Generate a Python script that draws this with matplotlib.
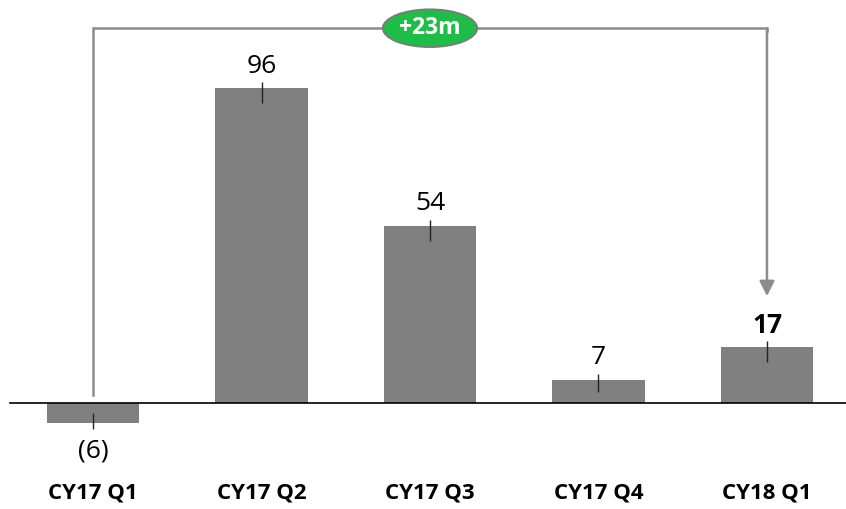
import matplotlib.pyplot as plt
from matplotlib.patches import Ellipse

plt.rcParams['font.family'] = ['Open Sans', 'DejaVu Sans']

quarters = ['CY17 Q1', 'CY17 Q2', 'CY17 Q3', 'CY17 Q4', 'CY18 Q1']
values = [-6, 96, 54, 7, 17]
value_labels = ['(6)', '96', '54', '7', '17']

bar_color = '#808080'
line_color = '#8c8c8c'

fig = plt.figure(figsize=(8.46, 5.09), dpi=100)
ax = fig.add_axes([0, 0, 1, 1])
x = list(range(len(values)))

ax.bar(x, values, width=0.55, color=bar_color, zorder=2)
ax.axhline(0, xmin=10 / 846, xmax=1, color='black', lw=1.2, zorder=3)

# small marker line at the end of each bar, plus the value label
for i, v in enumerate(values):
    sign = 1 if v >= 0 else -1
    inside = min(4.5, 0.5 * abs(v))
    ax.vlines(i, v - sign * inside, v + sign * 1.8, color='#222222', lw=1.0, zorder=3)
    bold = i == len(values) - 1
    ax.annotate(value_labels[i], (i, v), xytext=(0, 16 if v >= 0 else -20),
                textcoords='offset points', ha='center', va='center', fontsize=19,
                fontweight='bold' if bold else 'normal', color='black')
    ax.text(i, -27.4, quarters[i], ha='center', va='center', fontsize=16,
            fontweight='bold', color='black')

# bracket from first to last quarter
top = 114.3
ax.plot([0, 0, 4, 4], [2.4, top, top, top - 1], color=line_color, lw=1.8, zorder=1,
        solid_joinstyle='miter')
ax.annotate('', xy=(4, 32.6), xytext=(4, top),
            arrowprops=dict(arrowstyle='-|>,head_length=0.9,head_width=0.45',
                            color=line_color, lw=1.8, shrinkA=0, shrinkB=0))

delta = values[-1] - values[0]
ax.add_patch(Ellipse((2, top), 0.56, 11.5, facecolor='#1ebd48', edgecolor='#7a7a7a',
                     lw=1.3, zorder=4))
ax.text(2, top, f'+{delta}m', ha='center', va='center', color='white',
        fontsize=16.5, fontweight='bold', zorder=5)

ax.set_xlim(-0.552, 4.469)
ax.set_ylim(-32.3, 122.9)
ax.axis('off')

fig.savefig('out.png', dpi=100)
